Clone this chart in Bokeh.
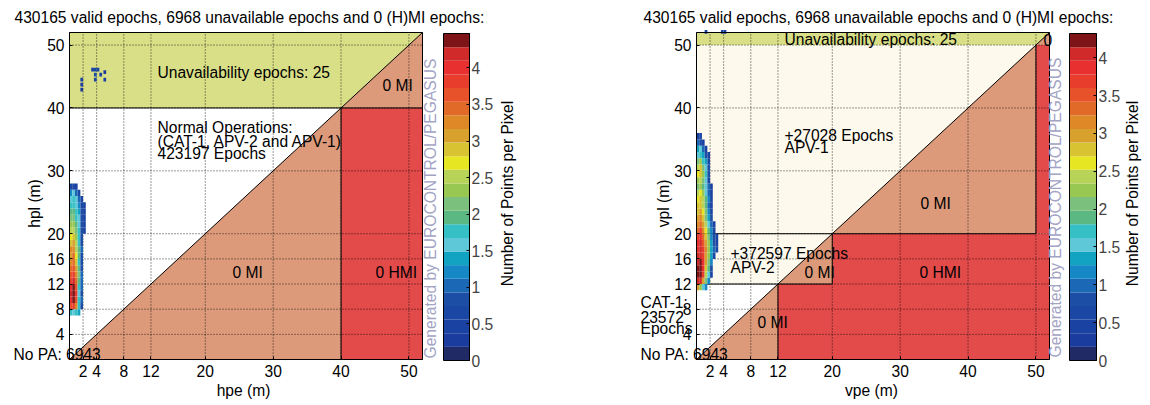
import math
from bokeh.plotting import figure
from bokeh.models import Range1d, LinearColorMapper, ColumnDataSource, LinearAxis
from bokeh.core.properties import value
from bokeh.layouts import row
from bokeh.embed import file_html
from bokeh.resources import INLINE

FONT = "Liberation Sans"
FS = "15.6px"

# ---------------- data ----------------
title_text = "430165 valid epochs, 6968 unavailable epochs and 0 (H)MI epochs:"
x_ticks = [2, 4, 8, 12, 20, 30, 40, 50]
y_ticks = [4, 8, 12, 16, 20, 30, 40, 50]
axis_max = 52

# colour scale (Number of Points per Pixel)
palette = ["#202b66", "#1a3c9e", "#1a42a2", "#1b47a4", "#1c4ea6", "#1a68b6",
           "#1788c6", "#12a2c2", "#5ec8d8", "#34c0c4", "#5cb882", "#7cc07e",
           "#98c852", "#b8d458", "#e6e622", "#d8c432", "#d8a02c", "#de8828",
           "#e26a28", "#e8522a", "#e83c2c", "#e83030", "#d02a2a", "#7c1418"]
cbar_ticks = [0, 0.5, 1, 1.5, 2, 2.5, 3, 3.5, 4]
cbar_tick_labels = ["0", "0.5", "1", "1.5", "2", "2.5", "3", "3.5", "4"]
left_cmax = 4.47
right_cmax = 4.32

# left plot: horizontal
hal = 40
left_hm_y = [7, 8, 9, 10, 11, 12, 13, 14, 15, 16, 17, 18, 19, 20, 21, 22, 23, 24, 25, 26, 27]
left_hm_vals = [
    [1.8, 1.6, 1.7, 1.4, None, None],
    [3.6, 3.9, 3.2, 1.8, 0.9, None],
    [4.0, 4.4, 3.7, 1.7, 1.0, None],
    [4.1, 4.45, 3.8, 1.6, 0.9, None],
    [4.0, 4.3, 3.7, 1.8, 1.0, None],
    [3.9, 4.1, 3.5, 2.0, 1.1, None],
    [3.7, 3.9, 3.2, 2.2, 1.0, None],
    [3.5, 3.6, 3.0, 2.0, 0.9, None],
    [3.3, 3.5, 2.8, 1.8, 0.8, None],
    [3.0, 3.4, 2.7, 2.0, 0.9, None],
    [3.2, 3.3, 2.6, 1.9, 1.0, None],
    [2.9, 3.0, 2.5, 1.8, 0.9, None],
    [2.7, 2.8, 2.3, 1.8, 0.8, None],
    [2.5, 2.6, 2.2, 1.7, 0.9, 0.4],
    [2.3, 2.4, 2.0, 1.6, 0.8, 0.5],
    [2.1, 2.2, 1.8, 1.5, 0.9, 0.5],
    [1.9, 2.0, 1.7, 1.4, 0.8, 0.4],
    [1.7, 1.8, 1.6, 1.3, 0.7, 0.5],
    [1.6, 1.7, 1.5, 1.0, 0.6, None],
    [1.3, 1.6, 1.0, 0.6, None, None],
    [0.6, 0.5, 0.4, None, None, None],
]
left_dots_x = [1.6, 1.6, 1.6, 3.6, 3.6, 3.6, 4.0, 4.4, 5.0, 5.0, 3.2]
left_dots_y = [42.6, 43.4, 44.2, 44.2, 45.0, 45.8, 45.8, 45.0, 45.4, 44.2, 45.8]
left_dots_v = [0.3, 0.3, 0.5, 0.6, 0.8, 0.6, 0.6, 0.4, 0.3, 0.4, 0.5]

# right plot: vertical
cat1_al = 12
apv2_al = 20
apv1_al = 50
right_hm_y = [11, 12, 13, 14, 15, 16, 17, 18, 19, 20, 21, 22, 23, 24, 25, 26, 27, 28, 29, 30,
              31, 32, 33, 34, 35]
right_hm_vals = [
    [3.0, 2.2, 1.6, 1.2],
    [4.1, 4.0, 3.0, 2.0, 1.2],
    [4.3, 4.3, 3.6, 2.5, 1.5, 0.6],
    [4.2, 4.3, 3.8, 2.8, 1.8, 0.8],
    [4.1, 4.2, 3.8, 3.0, 2.1, 1.1],
    [4.0, 4.1, 3.7, 3.0, 2.2, 1.3, 0.7],
    [3.9, 4.0, 3.6, 3.1, 2.3, 1.4, 0.9, 0.6],
    [3.8, 4.0, 3.5, 3.0, 2.2, 1.3, 0.8, 0.5],
    [3.6, 3.8, 3.3, 2.8, 2.0, 1.2, 0.8, 0.4],
    [3.4, 3.6, 3.1, 2.6, 1.8, 1.1, 0.7],
    [3.2, 3.4, 2.9, 2.4, 1.6, 0.9, 0.5],
    [2.9, 3.1, 2.7, 2.1, 1.4, 0.8],
    [2.7, 2.9, 2.6, 2.0, 1.2, 0.6],
    [2.7, 2.8, 2.5, 1.9, 1.0, 0.5],
    [2.6, 2.8, 2.4, 1.8, 1.1, 0.6],
    [2.4, 2.6, 2.2, 1.6, 1.0, 0.5],
    [2.0, 2.2, 1.8, 1.5, 0.9, 0.5],
    [2.3, 2.4, 2.0, 1.6, 0.7],
    [2.6, 2.7, 2.2, 1.7, 0.8],
    [2.5, 2.7, 2.0, 1.6, 0.8],
    [2.0, 2.2, 1.7, 1.3, 0.6],
    [1.6, 1.7, 1.4, 0.8, 0.5],
    [1.3, 1.5, 0.9, 0.5],
    [0.9, 0.8, 0.4],
    [0.5, 0.6],
]
right_dots_x = [1.2, 3.6, 4.0]
right_dots_y = [51.8, 51.8, 51.8]
right_dots_v = [0.5, 0.6, 0.5]

cell_w = 0.4
cell_h = 1.0

C_UNAV = "#d9df87"
C_MI = "#dc9a7a"
C_HMI = "#e34a4a"
C_APV = "#fdf9ec"
C_GEN = "#a3a3c4"

# ---------------- layout (page pixels) ----------------
FIG_H = 403
FRAME_T, FRAME_B = 32, 359
CB_T, CB_B = 33, 360


def heat_source(ys, vals):
    l, r, b, t, v = [], [], [], [], []
    for y0, rowv in zip(ys, vals):
        for j, val in enumerate(rowv):
            if val is None:
                continue
            l.append(j * cell_w)
            r.append((j + 1) * cell_w)
            b.append(y0)
            t.append(y0 + cell_h)
            v.append(val)
    return ColumnDataSource(dict(left=l, right=r, bottom=b, top=t, v=v))


def dots_source(xs, ys, vs):
    return ColumnDataSource(dict(left=xs, right=[x + cell_w for x in xs], bottom=ys,
                                 top=[y + 0.6 for y in ys], v=vs))


def build(cfg):
    ox, W = cfg["ox"], cfg["width"]
    fl, fr = cfg["frame_l"], cfg["frame_r"]
    XS = (fr - fl) / axis_max
    YS = (FRAME_B - FRAME_T) / axis_max

    def fx(px):
        return (px - fl) / XS

    def fy(py):
        return (FRAME_B - py) / YS

    cmax = cfg["cmax"]
    CBS = (CB_B - CB_T) / cmax

    p = figure(width=W, height=FIG_H, x_range=Range1d(fx(ox), fx(ox + W)),
               y_range=Range1d(fy(FIG_H), fy(0)), output_backend="svg",
               toolbar_location=None, title=None, x_axis_location=None, y_axis_location=None,
               min_border_left=0, min_border_right=0, min_border_top=0, min_border_bottom=0)
    p.extra_y_ranges = {"cb": Range1d((CB_B - FIG_H) / CBS, CB_B / CBS)}
    p.outline_line_color = None
    p.grid.visible = False
    p.background_fill_color = "white"
    p.border_fill_color = "white"

    # regions
    cfg["regions"](p)

    # grid
    n = len(x_ticks)
    p.segment(x0=x_ticks, y0=[0] * n, x1=x_ticks, y1=[axis_max] * n,
              line_color="black", line_alpha=0.8, line_dash="1 2", line_width=1)
    m = len(y_ticks)
    p.segment(x0=[0] * m, y0=y_ticks, x1=[axis_max] * m, y1=y_ticks,
              line_color="black", line_alpha=0.8, line_dash="1 2", line_width=1)

    cfg["lines"](p)

    mapper = LinearColorMapper(palette=palette, low=0, high=cmax)
    p.quad(source=heat_source(cfg["hm_y"], cfg["hm_vals"]), left="left", right="right",
           bottom="bottom", top="top", fill_color={"field": "v", "transform": mapper}, line_color=None)
    p.quad(source=dots_source(*cfg["dots"]), left="left", right="right",
           bottom="bottom", top="top", fill_color={"field": "v", "transform": mapper}, line_color=None)

    # plot box
    p.quad(left=0, right=axis_max, bottom=0, top=axis_max, fill_color=None,
           line_color="black", line_width=1)

    # axes pinned to the box
    xa = LinearAxis(fixed_location=0, bounds=(0, axis_max), ticker=x_ticks)
    ya = LinearAxis(fixed_location=0, bounds=(0, axis_max), ticker=y_ticks)
    for ax in (xa, ya):
        ax.axis_line_color = "black"
        ax.major_tick_line_color = "black"
        ax.major_tick_in = 3
        ax.major_tick_out = 0
        ax.minor_tick_line_color = None
        ax.major_label_text_font = FONT
        ax.major_label_text_font_size = FS
        ax.major_label_text_color = "black"
    xa.major_label_standoff = 5
    ya.major_label_standoff = 5
    p.add_layout(xa, "below")
    p.add_layout(ya, "left")

    # colour bar
    nb = len(palette)
    step = cmax / nb
    cl, cr = fx(cfg["cb_l"]), fx(cfg["cb_r"])
    p.quad(left=cl, right=cr, bottom=[i * step for i in range(nb)],
           top=[(i + 1) * step for i in range(nb)], fill_color=palette, line_color=None,
           y_range_name="cb")
    p.quad(left=cl, right=cr, bottom=0, top=cmax, fill_color=None, line_color="black",
           y_range_name="cb")
    ca = LinearAxis(y_range_name="cb", fixed_location=cr, bounds=(0, cmax), ticker=cbar_ticks,
                    major_label_overrides={t: s for t, s in zip(cbar_ticks, cbar_tick_labels)})
    ca.axis_line_color = "black"
    ca.major_tick_line_color = "black"
    ca.major_tick_in = 3
    ca.major_tick_out = 0
    ca.minor_tick_line_color = None
    ca.major_label_text_font = FONT
    ca.major_label_text_font_size = FS
    ca.major_label_standoff = 2
    p.add_layout(ca, "right")

    # texts (page pixel anchors)
    def txt(items, align="left", angle=0.0, color="black"):
        p.text(x=[fx(a) for a, b, s in items], y=[fy(b) for a, b, s in items],
               text=[s for a, b, s in items], text_align=align, text_baseline="middle",
               angle=angle, text_font=value(FONT), text_font_size=FS, text_color=color)

    txt(cfg["texts"])
    txt(cfg["ctexts"], align="center")
    txt(cfg["vtexts"], align="center", angle=math.pi / 2)
    txt(cfg["gen"], align="left", angle=math.pi / 2, color=C_GEN)
    return p


def left_regions(p):
    p.quad(left=0, right=axis_max, bottom=hal, top=axis_max, fill_color=C_UNAV, line_color=None)
    p.patches([[hal, axis_max, axis_max], [0, hal, hal]], [[hal, axis_max, hal], [0, hal, 0]],
              fill_color=C_MI, line_color=None)
    p.quad(left=hal, right=axis_max, bottom=0, top=hal, fill_color=C_HMI, line_color=None)


def left_lines(p):
    p.multi_line([[0, axis_max], [0, axis_max], [hal, hal]], [[0, axis_max], [hal, hal], [0, hal]],
                 line_color="black", line_width=1)


def right_regions(p):
    p.quad(left=[0, 0], right=[apv1_al, apv2_al], bottom=[apv2_al, cat1_al], top=[apv1_al, apv2_al],
           fill_color=C_APV, line_color=None)
    p.quad(left=0, right=axis_max, bottom=apv1_al, top=axis_max, fill_color=C_UNAV, line_color=None)
    p.quad(left=[cat1_al, apv2_al, apv1_al], right=[axis_max] * 3,
           bottom=[0, cat1_al, apv2_al], top=[cat1_al, apv2_al, apv1_al],
           fill_color=C_HMI, line_color=None)
    p.patches([[0, cat1_al, cat1_al], [cat1_al, apv2_al, apv2_al], [apv2_al, apv1_al, apv1_al],
               [apv1_al, axis_max, axis_max]],
              [[0, cat1_al, 0], [cat1_al, apv2_al, cat1_al], [apv2_al, apv1_al, apv2_al],
               [apv1_al, axis_max, apv1_al]],
              fill_color=C_MI, line_color=None)


def right_lines(p):
    p.multi_line([[0, axis_max], [0, apv2_al], [cat1_al, cat1_al], [apv2_al, apv2_al],
                  [0, apv1_al], [apv1_al, apv1_al]],
                 [[0, axis_max], [cat1_al, cat1_al], [0, cat1_al], [cat1_al, apv2_al],
                  [apv2_al, apv2_al], [apv2_al, apv1_al]],
                 line_color="black", line_width=1)


left_cfg = dict(
    ox=0, width=630, frame_l=69, frame_r=422, cb_l=443, cb_r=469, cmax=left_cmax,
    regions=left_regions, lines=left_lines,
    hm_y=left_hm_y, hm_vals=left_hm_vals, dots=(left_dots_x, left_dots_y, left_dots_v),
    texts=[(14, 17, title_text),
           (157, 72, "Unavailability epochs: 25"),
           (382, 85, "0 MI"),
           (157, 127, "Normal Operations:"),
           (157, 141, "(CAT-1, APV-2 and APV-1)"),
           (157, 153, "423197 Epochs"),
           (232, 272, "0 MI"),
           (375, 272, "0 HMI"),
           (13, 354, "No PA: 6943")],
    ctexts=[(243, 390, "hpe (m)")],
    vtexts=[(34, 203, "hpl (m)"), (507, 193, "Number of Points per Pixel")],
    gen=[(430, 358, "Generated by EUROCONTROL/PEGASUS")],
)

right_cfg = dict(
    ox=630, width=518, frame_l=696, frame_r=1049, cb_l=1069, cb_r=1096, cmax=right_cmax,
    regions=right_regions, lines=right_lines,
    hm_y=right_hm_y, hm_vals=right_hm_vals, dots=(right_dots_x, right_dots_y, right_dots_v),
    texts=[(643, 17, title_text),
           (784, 39, "Unavailability epochs: 25"),
           (1043, 39, "0"),
           (784, 135, "+27028 Epochs"),
           (784, 147, "APV-1"),
           (920, 203, "0 MI"),
           (730, 253, "+372597 Epochs"),
           (730, 267, "APV-2"),
           (804, 272, "0 MI"),
           (919, 272, "0 HMI"),
           (757, 322, "0 MI"),
           (640, 302, "CAT-1:"),
           (640, 316, "23572"),
           (640, 328, "Epochs"),
           (640, 354, "No PA: 6943")],
    ctexts=[(871, 390, "vpe (m)")],
    vtexts=[(663, 203, "vpl (m)"), (1132, 193, "Number of Points per Pixel")],
    gen=[(1055, 357, "Generated by EUROCONTROL/PEGASUS")],
)

pl = build(left_cfg)
pr = build(right_cfg)
layout = row(pl, pr)
open("out.html", "w").write(file_html(layout, INLINE))
